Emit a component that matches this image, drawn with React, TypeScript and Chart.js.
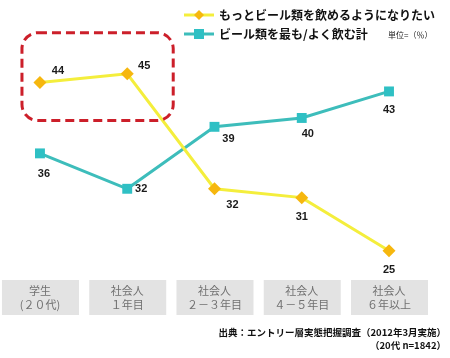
import React, { useEffect, useRef } from "react";
import { Chart, registerables } from "chart.js";

Chart.register(...registerables);

const categoriesLine1 = ["学生", "社会人", "社会人", "社会人", "社会人"];
const categoriesLine2 = ["(２０代)", "１年目", "２－３年目", "４－５年目", "６年以上"];
const seriesNames = ["もっとビール類を飲めるようになりたい", "ビール類を最も/よく飲む計"];
const wantMore = [44, 45, 32, 31, 25];
const drinkMost = [36, 32, 39, 40, 43];
const unitLabel = "単位=（％）";
const sourceLine1 = "出典：エントリー層実態把握調査（2012年3月実施）";
const sourceLine2 = "（20代 n=1842）";

const YELLOW_LINE = "#f4ee3c";
const YELLOW_PT = "#f6b70e";
const TEAL_LINE = "#3dbdbb";
const TEAL_PT = "#2fc0c4";
const JP = "'Noto Sans CJK JP', 'Noto Sans', sans-serif";

const labelOffsets = [
  [[18, -12], [17, -8], [18, 16], [0, 19], [0, 19]],
  [[4, 21], [14, 0], [14, 12], [6, 16], [0, 19]],
];

const decor = {
  id: "decor",
  beforeDatasetsDraw(chart: any) {
    const ctx = chart.ctx;
    const xs = chart.scales.x;
    ctx.save();
    for (let i = 0; i < categoriesLine1.length; i++) {
      const cx = xs.getPixelForValue(i);
      ctx.fillStyle = "#e3e3e3";
      ctx.fillRect(cx - 38, 280, 77, 35);
      ctx.fillStyle = "#707070";
      ctx.font = `11px ${JP}`;
      ctx.textAlign = "center";
      ctx.textBaseline = "middle";
      ctx.fillText(categoriesLine1[i], cx, 291);
      ctx.fillText(categoriesLine2[i], cx, 305);
    }
    const items = [
      { y: 15, line: YELLOW_LINE, pt: YELLOW_PT, diamond: true },
      { y: 34, line: TEAL_LINE, pt: TEAL_PT, diamond: false },
    ];
    items.forEach((it, k) => {
      ctx.strokeStyle = it.line;
      ctx.lineWidth = 3;
      ctx.beginPath();
      ctx.moveTo(184, it.y);
      ctx.lineTo(214, it.y);
      ctx.stroke();
      ctx.fillStyle = it.pt;
      ctx.beginPath();
      if (it.diamond) {
        ctx.moveTo(199, it.y - 5);
        ctx.lineTo(204, it.y);
        ctx.lineTo(199, it.y + 5);
        ctx.lineTo(194, it.y);
        ctx.closePath();
        ctx.fill();
      } else {
        ctx.fillRect(194, it.y - 5, 10, 10);
      }
      ctx.fillStyle = "#111";
      ctx.font = `bold 12px ${JP}`;
      ctx.textAlign = "left";
      ctx.textBaseline = "middle";
      ctx.fillText(seriesNames[k], 219, it.y);
    });
    ctx.font = `8px ${JP}`;
    ctx.fillStyle = "#222";
    ctx.fillText(unitLabel, 388, 35);
    ctx.textAlign = "right";
    ctx.font = `bold 9.5px ${JP}`;
    ctx.fillStyle = "#111";
    ctx.fillText(sourceLine1, 446, 332);
    ctx.fillText(sourceLine2, 446, 345);
    ctx.restore();
  },
  afterDatasetsDraw(chart: any) {
    const ctx = chart.ctx;
    ctx.save();
    ctx.font = "bold 11px 'Liberation Sans', Arial, sans-serif";
    ctx.fillStyle = "#1a1a1a";
    ctx.textAlign = "center";
    ctx.textBaseline = "middle";
    chart.data.datasets.forEach((ds: any, di: number) => {
      const meta = chart.getDatasetMeta(di);
      meta.data.forEach((pt: any, i: number) => {
        const [dx, dy] = labelOffsets[di][i];
        ctx.fillText(String(ds.data[i].y), pt.x + dx, pt.y + dy);
      });
    });
    const m = chart.getDatasetMeta(0).data;
    const left = m[0].x - 18;
    const right = m[1].x + 46;
    const top = m[1].y - 41;
    const bottom = m[0].y + 38;
    ctx.strokeStyle = "#cc1f2a";
    ctx.lineWidth = 3;
    ctx.setLineDash([9, 5]);
    ctx.beginPath();
    ctx.roundRect(left, top, right - left, bottom - top, 16);
    ctx.stroke();
    ctx.restore();
  },
};

export default function App() {
  const ref = useRef<HTMLCanvasElement | null>(null);
  useEffect(() => {
    const prevMargin = document.body.style.margin;
    document.body.style.margin = "0";
    const chart = new Chart(ref.current as HTMLCanvasElement, {
      type: "line",
      data: {
        datasets: [
          {
            label: seriesNames[0],
            data: wantMore.map((v, i) => ({ x: i, y: v })),
            borderColor: YELLOW_LINE,
            borderWidth: 3,
            pointStyle: "rectRot",
            pointRadius: 6.5,
            pointBackgroundColor: YELLOW_PT,
            pointBorderColor: YELLOW_PT,
            pointBorderWidth: 0,
            tension: 0,
          },
          {
            label: seriesNames[1],
            data: drinkMost.map((v, i) => ({ x: i, y: v })),
            borderColor: TEAL_LINE,
            borderWidth: 3,
            pointStyle: "rect",
            pointRadius: 7,
            pointBackgroundColor: TEAL_PT,
            pointBorderColor: TEAL_PT,
            pointBorderWidth: 0,
            tension: 0,
          },
        ],
      },
      options: {
        animation: false,
        responsive: false,
        layout: { padding: 0, autoPadding: false },
        plugins: { legend: { display: false }, tooltip: { enabled: false } },
        scales: {
          x: { type: "linear", min: -0.458, max: 4.699, display: false },
          y: { type: "linear", min: 12.88, max: 53.33, display: false },
        },
      },
      plugins: [decor],
    } as any);
    return () => {
      chart.destroy();
      document.body.style.margin = prevMargin;
    };
  }, []);
  return (
    <div style={{ position: "absolute", left: 0, top: 0, width: 450, height: 358, background: "#fff" }}>
      <canvas ref={ref} width={450} height={358} />
    </div>
  );
}
